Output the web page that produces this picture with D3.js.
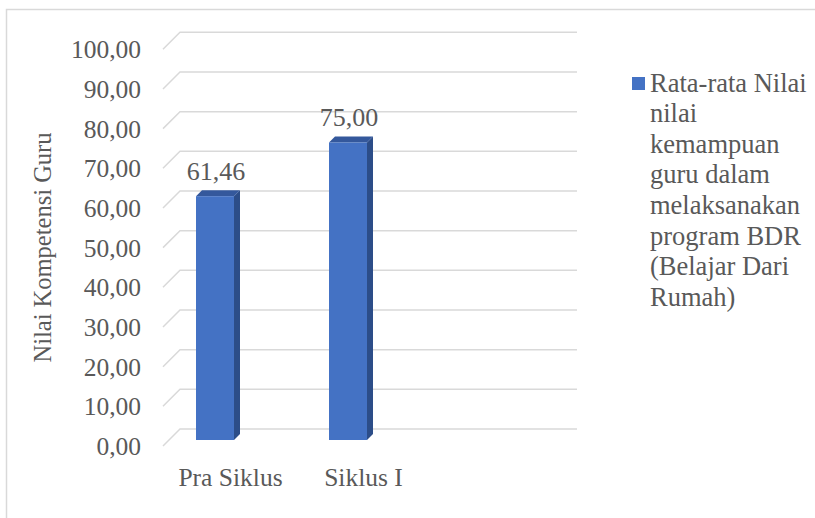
<!DOCTYPE html>
<html>
<head>
<meta charset="utf-8">
<script src="https://cdn.jsdelivr.net/npm/d3@7"></script>
<style>
html,body{margin:0;padding:0;background:#fff;}
svg{display:block;}
svg text{font-family:'Liberation Serif','Times New Roman',Tinos,'DejaVu Serif',serif;fill:#595959;}
</style>
</head>
<body>
<script>
const categories = ["Pra Siklus", "Siklus I"];
const values = [61.46, 75.00];
const valueLabels = ["61,46", "75,00"];
const yTicks = [0, 10, 20, 30, 40, 50, 60, 70, 80, 90, 100];
const yTitle = "Nilai Kompetensi Guru";
const legendLines = ["Rata-rata Nilai", "nilai", "kemampuan", "guru dalam", "melaksanakan", "program BDR", "(Belajar Dari", "Rumah)"];

const W = 815, H = 518;
const FONT = "'Liberation Serif','Times New Roman',Tinos,'DejaVu Serif',serif";
const svg = d3.select("body").append("svg").attr("width", W).attr("height", H)
  .attr("font-family", FONT);

// chart frame
svg.append("rect").attr("x", 6.5).attr("y", 9.5).attr("width", W + 10).attr("height", H + 10)
  .attr("fill", "none").attr("stroke", "#d9d9d9").attr("stroke-width", 1.5);

// back wall scale
const y = d3.scaleLinear().domain([0, 100]).range([429, 32.3]);
const backX0 = 180, backX1 = 577;
const depth = 17;
const barFront = 11, barBack = 5;

const grid = svg.append("g");
yTicks.forEach(t => {
  const yy = y(t);
  grid.append("path")
    .attr("d", `M${backX0 - depth},${yy + depth} L${backX0},${yy} L${backX1},${yy}`)
    .attr("fill", "none").attr("stroke", "#d9d9d9").attr("stroke-width", 1.5);
});

const fmt = v => d3.format(".2f")(v).replace(".", ",");
svg.append("g").selectAll("text").data(yTicks).join("text")
  .attr("font-family", FONT)
  .attr("x", 141).attr("y", d => y(d) + depth + 9)
  .attr("text-anchor", "end").attr("font-size", 25.5)
  .text(d => fmt(d));

svg.append("text")
  .attr("font-family", FONT)
  .attr("transform", "translate(51,247.5) rotate(-90)")
  .attr("text-anchor", "middle").attr("font-size", 24.5)
  .text(yTitle);

const x = d3.scalePoint().domain(categories).range([226, 359]);
const bw = 38;

const bars = svg.append("g");
categories.forEach((c, i) => {
  const v = values[i];
  const cx = x(c);
  const fx0 = cx - bw / 2 - barFront, fx1 = cx + bw / 2 - barFront;
  const fTop = y(v) + barFront, fBot = y(0) + barFront;
  const d = barFront - barBack;
  bars.append("path")
    .attr("d", `M${fx1},${fTop} L${fx1 + d},${fTop - d} L${fx1 + d},${fBot - d} L${fx1},${fBot} Z`)
    .attr("fill", "#2c4d88");
  bars.append("path")
    .attr("d", `M${fx0},${fTop} L${fx0 + d},${fTop - d} L${fx1 + d},${fTop - d} L${fx1},${fTop} Z`)
    .attr("fill", "#34589c");
  bars.append("rect")
    .attr("x", fx0).attr("y", fTop).attr("width", bw).attr("height", fBot - fTop)
    .attr("fill", "#4472c4");
  svg.append("text")
    .attr("font-family", FONT)
    .attr("x", cx - barFront + 1).attr("y", fTop - 16)
    .attr("text-anchor", "middle").attr("font-size", 26)
    .text(valueLabels[i]);
  svg.append("text")
    .attr("font-family", FONT)
    .attr("x", cx + 4.5).attr("y", 485.5)
    .attr("text-anchor", "middle").attr("font-size", 25.5)
    .text(c);
});

const lg = svg.append("g");
lg.append("rect").attr("x", 632).attr("y", 77).attr("width", 13).attr("height", 13).attr("fill", "#4472c4");
lg.selectAll("text").data(legendLines).join("text")
  .attr("font-family", FONT)
  .attr("x", 650).attr("y", (d, i) => 91.5 + i * 30.6)
  .attr("font-size", 26.5)
  .text(d => d);
</script>
</body>
</html>
